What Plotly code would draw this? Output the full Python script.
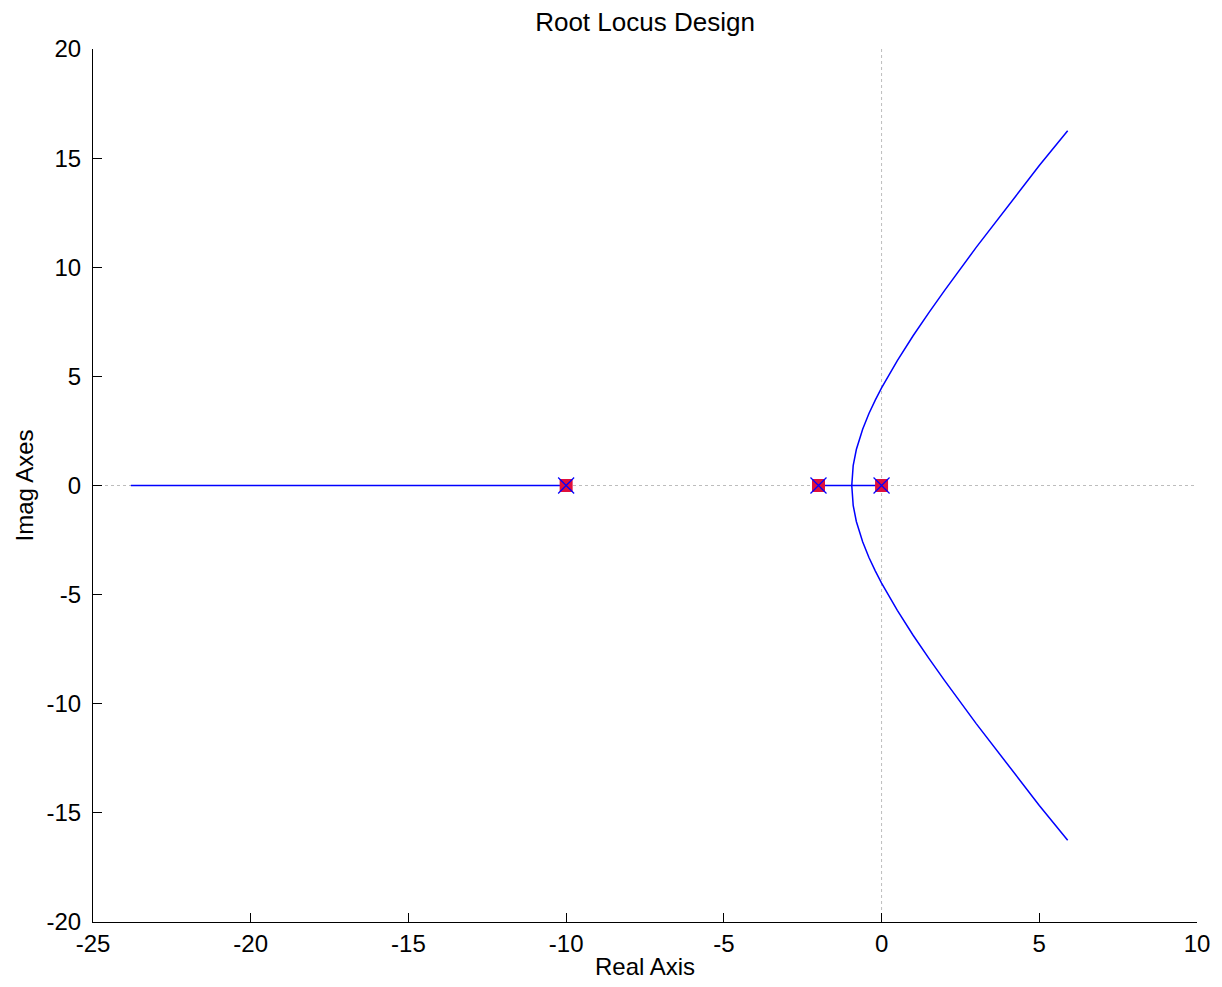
import plotly.graph_objects as go

# Open-loop poles (x markers) and closed-loop poles (squares)
pole_re = [0.0, -2.0, -10.0]
pole_im = [0.0, 0.0, 0.0]

# Real-axis branch from -10 towards -inf
branch_left_re = [-10.0, -23.8]
branch_left_im = [0.0, 0.0]

# Complex branches
upper_re = [0.0, -0.945, -0.9, -0.8, -0.6, -0.4, -0.2, 0.0, 0.5, 1.0, 1.5, 2.0, 3.0, 4.0, 5.0, 5.9]
upper_im = [0.0, 0.0, 0.91, 1.65, 2.58, 3.30, 3.91, 4.47, 5.72, 6.86, 7.92, 8.94, 10.91, 12.81, 14.66, 16.25]
lower_re = [-2.0, -0.945, -0.9, -0.8, -0.6, -0.4, -0.2, 0.0, 0.5, 1.0, 1.5, 2.0, 3.0, 4.0, 5.0, 5.9]
lower_im = [0.0, 0.0, -0.91, -1.65, -2.58, -3.30, -3.91, -4.47, -5.72, -6.86, -7.92, -8.94, -10.91, -12.81, -14.66, -16.25]

x_range = [-25, 10]
y_range = [-20, 20]
x_ticks = [-25, -20, -15, -10, -5, 0, 5, 10]
y_ticks = [-20, -15, -10, -5, 0, 5, 10, 15, 20]

FONT = "Liberation Sans, Arial, sans-serif"
BLUE = "#0000ff"
RED = "#e0103c"
GREY = "#bdbdbd"

fig = go.Figure()

# dotted axes lines through origin
fig.add_trace(go.Scatter(x=x_range, y=[0, 0], mode="lines",
                         line=dict(color=GREY, width=1, dash="dot"), hoverinfo="skip"))
fig.add_trace(go.Scatter(x=[0, 0], y=y_range, mode="lines",
                         line=dict(color=GREY, width=1, dash="dot"), hoverinfo="skip"))

for xs, ys in [(branch_left_re, branch_left_im), (upper_re, upper_im), (lower_re, lower_im)]:
    fig.add_trace(go.Scatter(x=xs, y=ys, mode="lines", line=dict(color=BLUE, width=1.5)))

fig.add_trace(go.Scatter(x=pole_re, y=pole_im, mode="markers",
                         marker=dict(symbol="square", size=13, color=RED, line=dict(width=0))))
fig.add_trace(go.Scatter(x=pole_re, y=pole_im, mode="markers",
                         marker=dict(symbol="x-thin", size=16, line=dict(color=BLUE, width=1.2))))

axis_common = dict(showline=True, linecolor="black", linewidth=1, mirror=False,
                   ticks="inside", ticklen=9, tickcolor="black", tickwidth=1,
                   showgrid=False, zeroline=False,
                   tickfont=dict(family=FONT, size=24, color="black"))

fig.update_layout(
    width=1222, height=987,
    paper_bgcolor="white", plot_bgcolor="white",
    showlegend=False,
    margin=dict(l=85, r=33, t=41, b=73),
    title=dict(text="Root Locus Design", x=(645 - 8) / 1222, xanchor="center",
               y=1 - 14 / 987, yanchor="middle", yref="container",
               font=dict(family=FONT, size=26, color="black")),
    xaxis=dict(range=x_range, tickvals=x_ticks, ticktext=[str(v) for v in x_ticks],
               title=dict(text="Real Axis", standoff=2,
                          font=dict(family=FONT, size=24, color="black")),
               **axis_common),
    yaxis=dict(range=y_range, tickvals=y_ticks, ticktext=[str(v) for v in y_ticks],
               ticklabelstandoff=6,
               title=dict(text="Imag Axes", standoff=6,
                          font=dict(family=FONT, size=24, color="black")),
               **axis_common),
)

fig.write_html("out.html")
